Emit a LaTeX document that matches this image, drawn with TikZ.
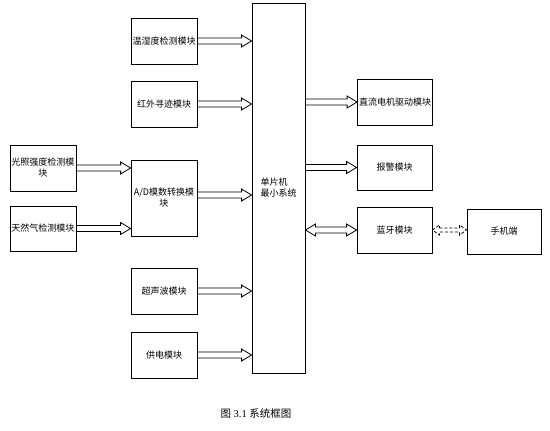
\documentclass[tikz,border=0pt]{standalone}
\usepackage{fontspec}
\setmainfont{Liberation Serif}
\newfontfamily\cjk{Noto Sans CJK SC}
\usetikzlibrary{calc}
\tikzset{
	box/.style={draw,line width=0.8pt,minimum width=66pt,minimum height=46pt,inner sep=1pt,align=center,font=\cjk\fontsize{9}{11}\selectfont},
	fatarrow/.style={line width=0.8pt,to path={($(\tikztostart)+(0,-3)$) -- ($(\tikztotarget)+(-10,-3)$) -- ++(0,-3) -- (\tikztotarget) -- ($(\tikztotarget)+(-10,6)$) -- ++(0,-3) -- ($(\tikztostart)+(0,3)$)}},
	fatboth/.style n args={3}{line width=0.8pt,to path={($(\tikztostart)+(#1,-#2)$) -- ($(\tikztotarget)+(-#1,-#2)$) -- ($(\tikztotarget)+(-#1,-#3)$) -- (\tikztotarget) -- ($(\tikztotarget)+(-#1,#3)$) -- ($(\tikztotarget)+(-#1,#2)$) -- ($(\tikztostart)+(#1,#2)$) -- ($(\tikztostart)+(#1,#3)$) -- (\tikztostart) -- ($(\tikztostart)+(#1,-#3)$) -- cycle}}
}
\begin{document}
\begin{tikzpicture}[x=1pt,y=-1pt]
\useasboundingbox[fill=white] (0,0) rectangle (550,431);

% left column
\node[box] (wsd) at (164,41) {温湿度检测模块};
\node[box] (hw) at (164,104) {红外寻迹模块};
\node[box,minimum height=76pt] (ad) at (164,198) {A/D模数转换模\\块};
\node[box] (csb) at (164,291) {超声波模块};
\node[box] (gd) at (164,355) {供电模块};

\node[box] (gz) at (43,168) {光照强度检测模\\块};
\node[box,minimum height=45pt] (trq) at (43,228.5) {天然气检测模块};

% MCU
\node[box,minimum width=53pt,minimum height=370pt,align=left] (mcu) at (278.5,188) {单片机\\最小系统};

% right column
\node[box,minimum width=75pt] (zl) at (395,102) {直流电机驱动模块};
\node[box,minimum width=75pt,minimum height=45pt] (bj) at (394.5,167.5) {报警模块};
\node[box,minimum width=75pt] (ly) at (394.5,230) {蓝牙模块};
\node[box,minimum width=74pt,minimum height=45pt] (sj) at (504,231.5) {手机端};
\coordinate (adout) at ([yshift=3pt]ad.east);

\draw[fatarrow] (wsd.east) to (mcu.west |- wsd.east);
\draw[fatarrow] (hw.east) to (mcu.west |- hw.east);
\draw[fatarrow] (adout) to (mcu.west |- adout);
\draw[fatarrow] (csb.east) to (mcu.west |- csb.east);
\draw[fatarrow] (gd.east) to (mcu.west |- gd.east);
\draw[fatarrow] (gz.east) to (ad.west |- gz.east);
\draw[fatarrow] (trq.east) to (ad.west |- trq.east);

\draw[fatarrow] (mcu.east |- zl.west) to (zl.west);
\draw[fatarrow] (mcu.east |- bj.west) to (bj.west);
\draw[fatboth={10}{3}{6}] (mcu.east |- ly.west) to (ly.west);
\draw[fatboth={7}{2}{5},dashed,dash pattern=on 3pt off 2pt] (ly.east) to (sj.west |- ly.east);

\node[font=\fontsize{10.5}{12}\selectfont] (cap) at (256,413) {{\cjk 图} 3.1 {\cjk 系统框图}};
\end{tikzpicture}
\end{document}
